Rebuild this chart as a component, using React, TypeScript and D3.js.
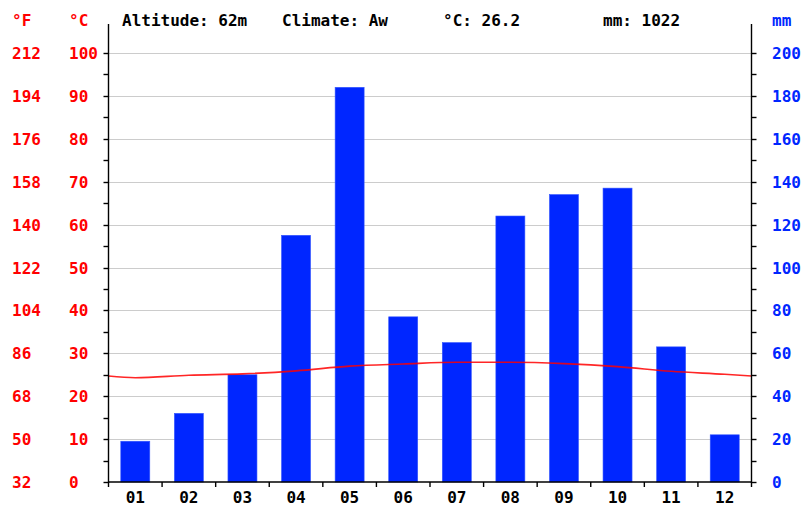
import React, { useEffect, useRef } from 'react';
import * as d3 from 'd3';

const months = ['01', '02', '03', '04', '05', '06', '07', '08', '09', '10', '11', '12'];
const precipitation = [19, 32, 50, 115, 184, 77, 65, 124, 134, 137, 63, 22];
const temperature = [24.3, 24.9, 25.2, 25.9, 27.0, 27.5, 27.9, 27.9, 27.6, 26.9, 25.8, 25.1];
const celsiusTicks = [0, 10, 20, 30, 40, 50, 60, 70, 80, 90, 100];
const fahrenheitTicks = [32, 50, 68, 86, 104, 122, 140, 158, 176, 194, 212];
const mmTicks = [0, 20, 40, 60, 80, 100, 120, 140, 160, 180, 200];
const headerItems = [
  { text: 'Altitude: 62m', x: 122 },
  { text: 'Climate: Aw', x: 282 },
  { text: '°C: 26.2', x: 443 },
  { text: 'mm: 1022', x: 603 },
];

function App() {
  const svgRef = useRef<SVGSVGElement>(null);

  useEffect(() => {
    const W = 803, H = 507;
    const left = 108.5, right = 751.5, top = 53, bottom = 482;
    const font = '"DejaVu Sans Mono", monospace';
    const red = '#ff0000';
    const blue = '#0026ff';

    const svg = d3.select(svgRef.current)
      .attr('width', W)
      .attr('height', H)
      .style('background', '#fff');
    svg.selectAll('*').remove();

    const x = d3.scaleBand().domain(months).range([left, right]).padding(0);
    const yT = d3.scaleLinear().domain([0, 100]).range([bottom, top]);
    const yP = d3.scaleLinear().domain([0, 200]).range([bottom, top]);

    // gridlines
    svg.append('g')
      .selectAll('line')
      .data(celsiusTicks.filter(d => d > 0))
      .enter()
      .append('line')
      .attr('x1', left).attr('x2', right)
      .attr('y1', d => Math.round(yT(d)) + 0.5)
      .attr('y2', d => Math.round(yT(d)) + 0.5)
      .attr('stroke', '#cccccc')
      .attr('stroke-width', 1);

    // bars
    const barW = 29;
    svg.append('g')
      .selectAll('rect')
      .data(precipitation)
      .enter()
      .append('rect')
      .attr('x', (d, i) => x(months[i])! + x.bandwidth() / 2 - barW / 2)
      .attr('y', d => yP(d))
      .attr('width', barW)
      .attr('height', d => bottom - yP(d))
      .attr('fill', blue)
      .attr('stroke', '#3355ff')
      .attr('stroke-width', 0.6);

    // temperature line, ends at the axes with the Dec/Jan mean
    const edge = (temperature[0] + temperature[11]) / 2;
    const pts: [number, number][] = [[left, yT(edge)]];
    temperature.forEach((t, i) => pts.push([x(months[i])! + x.bandwidth() / 2, yT(t)]));
    pts.push([right, yT(edge)]);
    svg.append('path')
      .attr('d', d3.line().curve(d3.curveMonotoneX)(pts))
      .attr('fill', 'none')
      .attr('stroke', red)
      .attr('stroke-opacity', 0.85)
      .attr('stroke-width', 1.6);

    // axes lines
    const axes = svg.append('g').attr('stroke', '#000').attr('stroke-width', 1.4);
    axes.append('line').attr('x1', left).attr('x2', left).attr('y1', 24).attr('y2', bottom + 1);
    axes.append('line').attr('x1', right).attr('x2', right).attr('y1', 24).attr('y2', bottom + 1);
    axes.append('line').attr('x1', left).attr('x2', right).attr('y1', bottom).attr('y2', bottom);

    const minor = d3.range(0, 101, 5);
    axes.selectAll('.lt').data(minor).enter().append('line')
      .attr('x1', left - 5).attr('x2', left)
      .attr('y1', d => Math.round(yT(d)) + 0.5).attr('y2', d => Math.round(yT(d)) + 0.5);
    axes.selectAll('.rt').data(minor).enter().append('line')
      .attr('x1', right).attr('x2', right + 5)
      .attr('y1', d => Math.round(yT(d)) + 0.5).attr('y2', d => Math.round(yT(d)) + 0.5);
    axes.selectAll('.bt').data(d3.range(0, 13)).enter().append('line')
      .attr('x1', d => left + d * x.step()).attr('x2', d => left + d * x.step())
      .attr('y1', bottom).attr('y2', bottom + 5);

    const text = (g: any) => g
      .attr('font-family', font)
      .attr('font-weight', 'bold')
      .attr('font-size', 16);

    // left labels
    svg.append('g').call(text).attr('fill', red)
      .selectAll('text').data(fahrenheitTicks).enter().append('text')
      .attr('x', 12).attr('y', (d, i) => yT(celsiusTicks[i]) + 6)
      .text(d => d);
    svg.append('g').call(text).attr('fill', red)
      .selectAll('text').data(celsiusTicks).enter().append('text')
      .attr('x', 69).attr('y', d => yT(d) + 6)
      .text(d => d);
    svg.append('g').call(text).attr('fill', blue)
      .selectAll('text').data(mmTicks).enter().append('text')
      .attr('x', 772).attr('y', d => yP(d) + 6)
      .text(d => d);

    // unit labels
    svg.append('text').call(text).attr('fill', red).attr('x', 12).attr('y', 26).text('°F');
    svg.append('text').call(text).attr('fill', red).attr('x', 69).attr('y', 26).text('°C');
    svg.append('text').call(text).attr('fill', blue).attr('x', 772).attr('y', 26).text('mm');

    // header
    svg.append('g').call(text).attr('fill', '#000')
      .selectAll('text').data(headerItems).enter().append('text')
      .attr('x', d => d.x).attr('y', 26)
      .text(d => d.text);

    // month labels
    svg.append('g').call(text).attr('fill', '#000')
      .selectAll('text').data(months).enter().append('text')
      .attr('x', d => x(d)! + x.bandwidth() / 2)
      .attr('y', 503)
      .attr('text-anchor', 'middle')
      .text(d => d);
  }, []);

  return <svg ref={svgRef} style={{ position: 'absolute', left: 0, top: 0 }}></svg>;
}

export default App;
